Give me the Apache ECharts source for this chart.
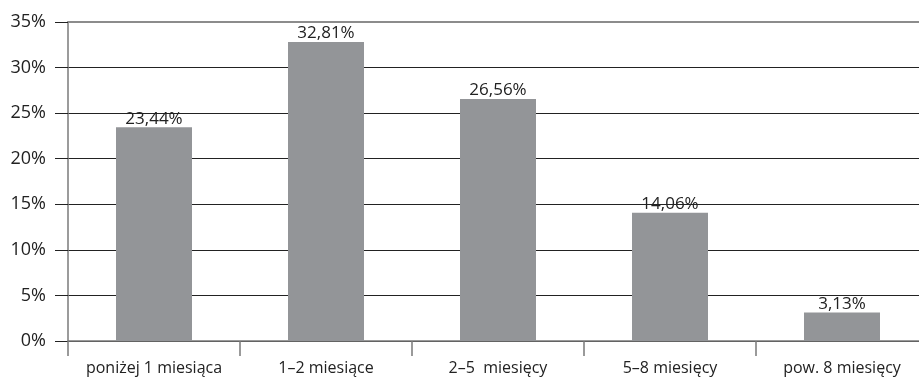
<!DOCTYPE html>
<html>
<head>
<meta charset="utf-8">
<script src="https://cdn.jsdelivr.net/npm/echarts@6/dist/echarts.min.js"></script>
<style>
  html, body { margin: 0; padding: 0; background: #fff; }
  #chart { width: 919px; height: 381px; }
</style>
</head>
<body>
<div id="chart"></div>
<script>
// Czas trwania — udział odpowiedzi (%)
const categories = ['poniżej 1 miesiąca', '1–2 miesiące', '2–5  miesięcy', '5–8 miesięcy', 'pow. 8 miesięcy'];
const shares = [23.44, 32.81, 26.56, 14.06, 3.13];
const yTicks = [0, 5, 10, 15, 20, 25, 30, 35];

const fontFamily = '"Open Sans", "Noto Sans", sans-serif';
const chart = echarts.init(document.getElementById('chart'), null, { renderer: 'canvas' });

chart.setOption({
  animation: false,
  backgroundColor: '#ffffff',
  grid: { left: 68, width: 860, top: 22, bottom: 40, containLabel: false, outerBoundsMode: 'none' },
  xAxis: [{
    type: 'category',
    data: categories,
    position: 'bottom',
    axisLine: { show: true, lineStyle: { color: '#7a7a7a', width: 1.5 } },
    axisTick: { show: true, alignWithLabel: false, length: 15, lineStyle: { color: '#7a7a7a', width: 1.5 } },
    axisLabel: { color: '#222', fontSize: 16, fontFamily, margin: 19, interval: 0, hideOverlap: false },
    splitLine: { show: false }
  }, {
    // górna krawędź wykresu na poziomie 35%
    type: 'category',
    data: categories,
    position: 'top',
    axisLine: { show: true, lineStyle: { color: '#8c8c8c', width: 2 } },
    axisTick: { show: false },
    axisLabel: { show: false }
  }],
  yAxis: {
    type: 'value',
    min: yTicks[0],
    max: yTicks[yTicks.length - 1],
    interval: 5,
    axisLine: { show: true, lineStyle: { color: '#7a7a7a', width: 1.5 } },
    axisTick: { show: true, length: 13, lineStyle: { color: '#222', width: 1 } },
    axisLabel: {
      color: '#222', fontSize: 18, fontFamily, margin: 22,
      formatter: v => v + '%'
    },
    splitLine: { show: true, lineStyle: { color: '#222', width: 1 } }
  },
  series: [{
    type: 'bar',
    xAxisIndex: 0,
    data: shares,
    barWidth: 76,
    itemStyle: { color: '#939598' },
    label: {
      show: true,
      position: 'top',
      distance: 0,
      color: '#222',
      fontSize: 17,
      fontFamily,
      formatter: p => p.value.toFixed(2).replace('.', ',') + '%'
    }
  }]
});
</script>
</body>
</html>
